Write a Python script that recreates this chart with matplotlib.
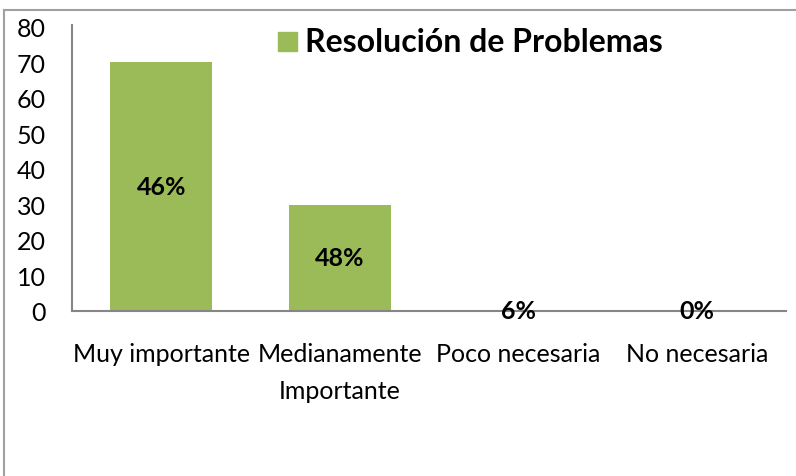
import matplotlib.pyplot as plt
from matplotlib.lines import Line2D
from matplotlib.patches import Rectangle

plt.rcParams['font.family'] = ['Lato', 'DejaVu Sans']

categories = ['Muy importante', 'Medianamente\nImportante', 'Poco necesaria', 'No necesaria']
values = [70, 30, 0, 0]
pct_labels = ['46%', '48%', '6%', '0%']
yticks = [0, 10, 20, 30, 40, 50, 60, 70, 80]
series_name = 'Resolución de Problemas'

green = '#9BBB59'
gray = '#868686'

fig = plt.figure(figsize=(7.96, 4.77), dpi=100)
ax = fig.add_axes([72/796, 1 - 312/477, 714/796, 284/477])

x = list(range(len(categories)))
ax.bar(x, values, width=0.57, color=green)
ax.set_xlim(-0.5, len(categories) - 0.5)
ax.set_ylim(0, 80)
ax.set_yticks(yticks)
ax.tick_params(axis='y', length=0, pad=19, labelsize=18)
ax.set_xticks(x)
ax.tick_params(axis='x', length=0, labelbottom=False)

# category labels (drawn as text so multi-line spacing can be set)
for i, cat in enumerate(categories):
    ax.annotate(cat, (i, 0), xycoords=ax.get_xaxis_transform(),
                xytext=(0, -22), textcoords='offset points',
                ha='center', va='top', fontsize=18, linespacing=1.75)

for s in ['top', 'right']:
    ax.spines[s].set_visible(False)
for s in ['left', 'bottom']:
    ax.spines[s].set_color(gray)
    ax.spines[s].set_linewidth(1.5)
ax.spines['left'].set_bounds(0, 80.5)

for i, (v, lab) in enumerate(zip(values, pct_labels)):
    ax.text(i, v / 2, lab, ha='center', va='center', fontsize=18, fontweight='bold')

# legend
fig.add_artist(Rectangle((278/796, 1 - 52/477), 19/796, 19/477,
                         transform=fig.transFigure, color=green))
fig.text(305/796, 1 - 42/477, series_name, fontsize=23, fontweight='bold',
         ha='left', va='center')

# outer chart border
fig.add_artist(Line2D([4/796, 1], [1 - 11/477, 1 - 11/477], transform=fig.transFigure,
                      color='#A0A0A0', lw=1.5))
fig.add_artist(Line2D([4/796, 4/796], [0, 1 - 11/477], transform=fig.transFigure,
                      color='#A0A0A0', lw=1.5))

fig.savefig('out.png', dpi=100)
